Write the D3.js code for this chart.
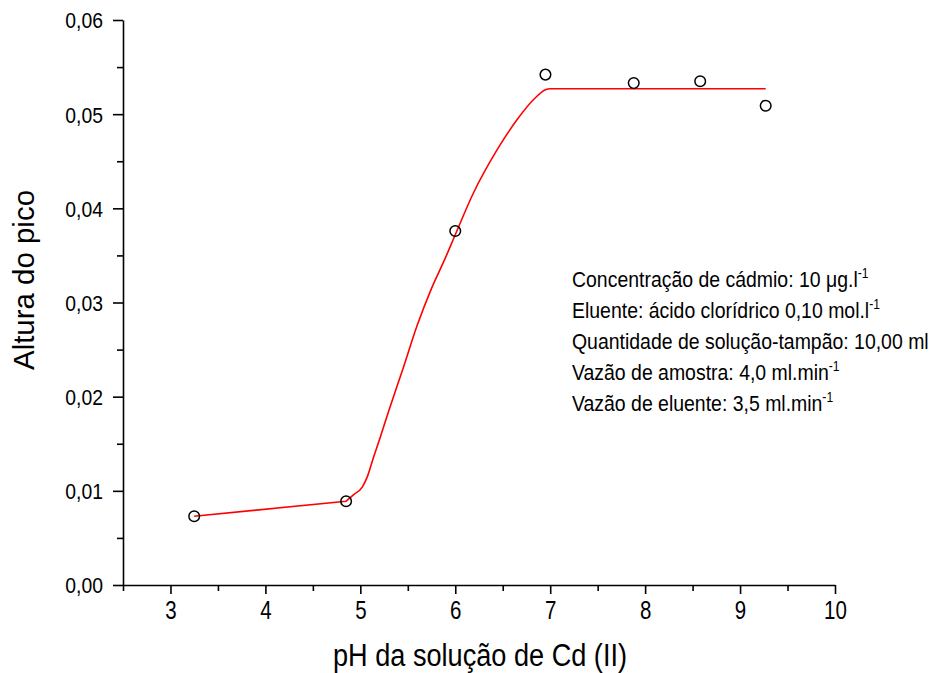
<!DOCTYPE html>
<html>
<head>
<meta charset="utf-8">
<script src="https://cdn.jsdelivr.net/npm/d3@7"></script>
<style>
  html, body { margin: 0; padding: 0; background: #fff; }
  svg { display: block; font-family: "Liberation Sans", Arial, sans-serif; }
</style>
</head>
<body>
<svg id="chart" width="935" height="673"></svg>
<script>
// Measured peak heights versus pH
const phValues = [3.25, 4.85, 6.0, 6.95, 7.88, 8.58, 9.27];
const peakHeights = [0.0073, 0.0089, 0.0376, 0.0542, 0.0533, 0.0535, 0.0509];

// Fitted trend (red curve): straight run up to pH 4.85, smooth rise after it
const fitPh = [3.25, 4.85, 4.93, 5.02, 5.07, 5.14, 5.21, 5.30, 5.45, 5.60, 5.75, 5.89, 6.0, 6.19, 6.44, 6.65, 6.82, 6.95, 7.0, 9.27];
const fitHeights = [0.0073, 0.0089, 0.0096, 0.0104, 0.0114, 0.0136, 0.0157, 0.0185, 0.0230, 0.0276, 0.0315, 0.0346, 0.0372, 0.0416, 0.0462, 0.0494, 0.0515, 0.0526, 0.0527, 0.0527];

// Axis ticks
const xTicks = [3, 4, 5, 6, 7, 8, 9, 10];
const xMinorTicks = [2.5, 3.5, 4.5, 5.5, 6.5, 7.5, 8.5, 9.5];
const yTicks = [0, 0.01, 0.02, 0.03, 0.04, 0.05, 0.06];
const yMinorTicks = [0.005, 0.015, 0.025, 0.035, 0.045, 0.055];

// Experimental conditions
const conditions = [
  [{t: "Concentração de cádmio: 10 "}, {t: "\u03BC"}, {t: "g.l"}, {t: "-1", sup: true}],
  [{t: "Eluente:  ácido clorídrico 0,10 mol.l"}, {t: "-1", sup: true}],
  [{t: "Quantidade de solução-tampão: 10,00 ml"}],
  [{t: "Vazão de amostra: 4,0 ml.min"}, {t: "-1", sup: true}],
  [{t: "Vazão de eluente: 3,5 ml.min"}, {t: "-1", sup: true}]
];

const svg = d3.select("#chart");
const W = 935, H = 673;
const margin = {left: 123, right: 100, top: 20, bottom: 88};

const x = d3.scaleLinear().domain([2.5, 10]).range([margin.left, W - margin.right]);
const y = d3.scaleLinear().domain([0, 0.06]).range([H - margin.bottom, margin.top]);

const fmt = d => d3.format(".2f")(d).replace(".", ",");
const FONT = "Liberation Sans, Arial, sans-serif";

// X axis
const xSq = 0.82;
const gx = svg.append("g").attr("transform", `translate(0,${y(0)})`);
gx.call(d3.axisBottom(x).tickValues(xTicks).tickSize(9).tickSizeOuter(0).tickFormat(d3.format("d")));
gx.append("g").call(d3.axisBottom(x).tickValues(xMinorTicks).tickSize(6).tickFormat(""))
  .select(".domain").remove();
gx.selectAll("text").attr("dy", null).attr("y", 34).attr("font-size", 25).attr("fill", "#000")
  .attr("font-family", FONT).attr("transform", `scale(${xSq},1)`);

// Y axis
const ySq = 0.88;
const gy = svg.append("g").attr("transform", `translate(${x(2.5)},0)`);
gy.call(d3.axisLeft(y).tickValues(yTicks).tickSize(10).tickSizeOuter(0).tickFormat(fmt));
gy.append("g").call(d3.axisLeft(y).tickValues(yMinorTicks).tickSize(6).tickFormat(""))
  .select(".domain").remove();
gy.selectAll("text").attr("x", -20 / ySq).attr("dy", "0.36em").attr("font-size", 22).attr("fill", "#000")
  .attr("font-family", FONT).attr("transform", `scale(${ySq},1)`);

svg.selectAll(".domain, .tick line").attr("stroke", "#000").attr("stroke-width", 1.6);

// Axis titles
svg.append("text")
  .attr("x", 333)
  .attr("y", 666)
  .attr("font-size", 31)
  .attr("textLength", 294)
  .attr("lengthAdjust", "spacingAndGlyphs")
  .text("pH da solução de Cd (II)");

svg.append("text")
  .attr("transform", `translate(34,370) rotate(-90)`)
  .attr("font-size", 29)
  .attr("textLength", 180)
  .attr("lengthAdjust", "spacingAndGlyphs")
  .text("Altura do pico");

// Fitted curve
const fit = fitPh.map((p, i) => [p, fitHeights[i]]);
const line = d3.line().x(d => x(d[0])).y(d => y(d[1]));
svg.append("path")
  .attr("fill", "none")
  .attr("stroke", "#ff0000")
  .attr("stroke-width", 1.6)
  .attr("d", line.curve(d3.curveLinear)(fit.slice(0, 2)) + line.curve(d3.curveMonotoneX)(fit.slice(1)).replace(/^M/, "L"));

// Data markers
svg.append("g").selectAll("circle")
  .data(phValues.map((p, i) => [p, peakHeights[i]]))
  .join("circle")
  .attr("cx", d => x(d[0]))
  .attr("cy", d => y(d[1]))
  .attr("r", 5.3)
  .attr("fill", "none")
  .attr("stroke", "#000")
  .attr("stroke-width", 1.5);

// Conditions block, set in a horizontally condensed face
const note = svg.append("g").attr("font-size", 22.5);
conditions.forEach((row, i) => {
  const t = note.append("text").attr("x", 0).attr("y", 287 + i * 31);
  row.forEach(seg => {
    const ts = t.append("tspan").text(seg.t);
    if (seg.sup) ts.attr("font-size", 14).attr("baseline-shift", "9");
  });
});
const widest = note.selectAll("text").nodes()[2].getComputedTextLength();
note.attr("transform", `translate(572,0) scale(${357 / widest},1)`);
</script>
</body>
</html>
